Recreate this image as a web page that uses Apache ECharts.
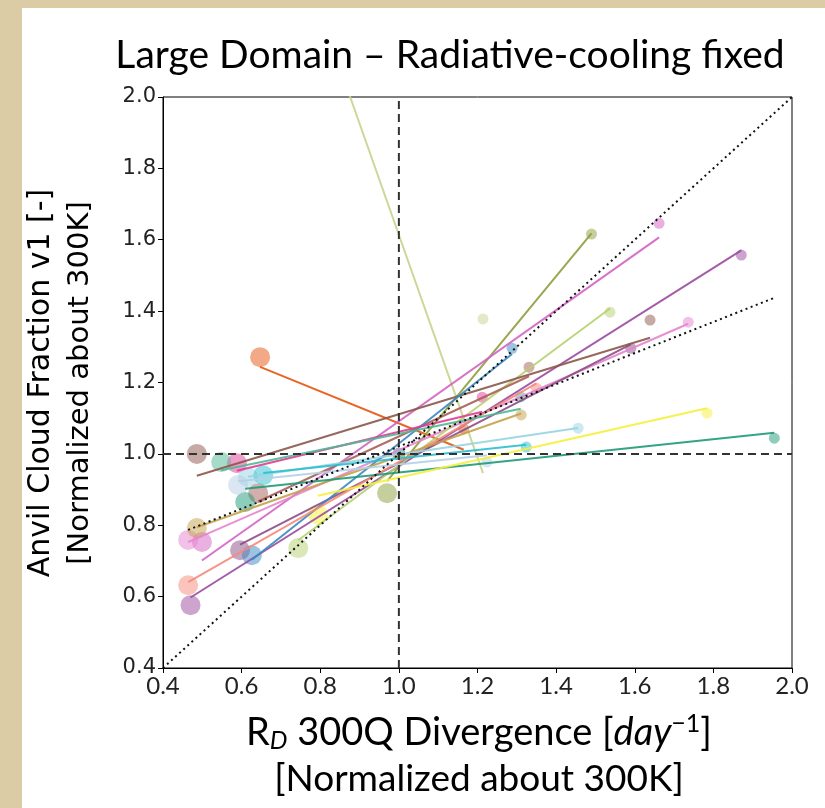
<!DOCTYPE html>
<html>
<head>
<meta charset="utf-8">
<script src="https://cdn.jsdelivr.net/npm/echarts@6/dist/echarts.min.js"></script>
<style>
  html, body { margin: 0; padding: 0; background: #fff; }
  #chart { width: 825px; height: 808px; }
</style>
</head>
<body>
<div id="chart"></div>
<script>
// one entry per model, normalized about 300K (the 300K point is 1,1 for all)
const modelColors = [
  '#e6550d', '#c7d48e', '#8c9d3c', '#d462c4', '#e584cf',
  '#9a4a9e', '#8b4d86', '#b6d06e', '#8c564b', '#a65f55',
  '#3a87c0', '#f58a7a', '#c4a24a', '#e23b95', '#4fb893',
  '#1e9a78', '#f5f03c', '#98d4e2', '#2bbfd0', '#b5cfe6'
]
// cold SST point (large marker)
const coldX = [0.647, 0.492, 0.970, 0.499, 0.464, 0.470, 0.596, 0.744, 0.486, 0.642,
               0.626, 0.464, 0.486, 0.588, 0.548, 0.609, 0.794, 0.616, 0.655, 0.591]
const coldY = [1.271, 3.380, 0.890, 0.753, 0.759, 0.576, 0.730, 0.736, 1.000, 0.890,
               0.716, 0.632, 0.792, 0.974, 0.977, 0.865, 0.830, 0.935, 0.940, 0.913]
// warm SST point (small marker)
const warmX = [1.165, 1.214, 1.490, 1.662, 1.736, 1.871, 1.590, 1.537, 1.639, 1.331,
               1.288, 1.350, 1.311, 1.212, 1.310, 1.955, 1.784, 1.456, 1.324, 1.224]
const warmY = [1.070, 1.378, 1.616, 1.646, 1.369, 1.557, 1.296, 1.397, 1.375, 1.243,
               1.296, 1.184, 1.109, 1.159, 1.160, 1.044, 1.114, 1.072, 1.019, 0.977]
const refX = 1.0
const refY = 1.0

// multi-model fit (dotted) and 1:1 line
const fitAllX = [0.464, 1.952]
const fitAllY = [0.787, 1.436]
const oneToOne = [0.4, 2.0]

const axisTicks = [0.4, 0.6, 0.8, 1.0, 1.2, 1.4, 1.6, 1.8, 2.0]

// least squares through the three SST points of a model
const fitLine = (xs, ys) => {
  const n = xs.length
  const mx = xs.reduce((a, b) => a + b, 0) / n
  const my = ys.reduce((a, b) => a + b, 0) / n
  let sxy = 0, sxx = 0
  for (let i = 0; i < n; i++) {
    sxy += (xs[i] - mx) * (ys[i] - my)
    sxx += (xs[i] - mx) * (xs[i] - mx)
  }
  const b = sxy / sxx
  const x0 = Math.min(...xs), x1 = Math.max(...xs)
  return [[x0, my + b * (x0 - mx)], [x1, my + b * (x1 - mx)]]
}

const series = []
modelColors.forEach((color, i) => {
  series.push({
    type: 'scatter',
    data: [[coldX[i], coldY[i], 20], [refX, refY, 12], [warmX[i], warmY[i], 11]],
    symbolSize: d => d[2],
    itemStyle: { color: color, opacity: 0.5 },
    silent: true,
    z: 2
  })
  series.push({
    type: 'line',
    data: fitLine([coldX[i], refX, warmX[i]], [coldY[i], refY, warmY[i]]),
    showSymbol: false,
    lineStyle: { color: color, width: 2, opacity: 0.9 },
    silent: true,
    z: 3
  })
})

// reference lines
series.push({
  type: 'line',
  data: [[refX, axisTicks[0]], [refX, axisTicks[axisTicks.length - 1]]],
  showSymbol: false,
  lineStyle: { color: '#333', width: 2, type: [8, 5] },
  z: 5
})
series.push({
  type: 'line',
  data: [[axisTicks[0], refY], [axisTicks[axisTicks.length - 1], refY]],
  showSymbol: false,
  lineStyle: { color: '#333', width: 2, type: [8, 5] },
  z: 5
})
series.push({
  type: 'line',
  data: [[oneToOne[0], oneToOne[0]], [oneToOne[1], oneToOne[1]]],
  showSymbol: false,
  lineStyle: { color: '#111', width: 2, type: [2, 3.5] },
  z: 5
})
series.push({
  type: 'line',
  data: [[fitAllX[0], fitAllY[0]], [fitAllX[1], fitAllY[1]]],
  showSymbol: false,
  lineStyle: { color: '#111', width: 2, type: [2, 3.5] },
  z: 5
})

const valueAxis = (labelStyle) => ({
  type: 'value',
  min: 0.4,
  max: 2.0,
  interval: 0.2,
  axisLine: { show: true, onZero: false, lineStyle: { color: '#000', width: 1 } },
  axisTick: { show: true, inside: false, length: 5, lineStyle: { color: '#000' } },
  splitLine: { show: false },
  axisLabel: Object.assign({ formatter: v => v.toFixed(1), color: '#222' }, labelStyle)
})

const chart = echarts.init(document.getElementById('chart'))
chart.setOption({
  backgroundColor: '#fff',
  animation: false,
  grid: {
    left: 163, top: 97, width: 629, height: 571,
    show: true, borderColor: '#000', borderWidth: 1
  },
  xAxis: valueAxis({ fontFamily: 'Lato', fontSize: 24, margin: 6 }),
  yAxis: valueAxis({ fontFamily: 'DejaVu Sans', fontSize: 21, margin: 7 }),
  series: series,
  graphic: [
    // beige slide frame
    { type: 'rect', left: 0, top: 0, shape: { width: 22, height: 808 }, style: { fill: '#dccca5' } },
    { type: 'rect', left: 0, top: 0, shape: { width: 825, height: 8 }, style: { fill: '#dccca5' } },
    {
      type: 'text', x: 450, y: 55,
      style: {
        text: 'Large Domain – Radiative-cooling fixed',
        font: '39px Lato', fill: '#000', align: 'center', verticalAlign: 'middle'
      }
    },
    {
      type: 'text', x: 41, y: 383, rotation: Math.PI / 2,
      style: {
        text: 'Anvil Cloud Fraction v1 [-]',
        font: '30px "DejaVu Sans"', fill: '#000', align: 'center', verticalAlign: 'middle'
      }
    },
    {
      type: 'text', x: 80, y: 383, rotation: Math.PI / 2,
      style: {
        text: '[Normalized about 300K]',
        font: '29px "DejaVu Sans"', fill: '#000', align: 'center', verticalAlign: 'middle'
      }
    },
    {
      type: 'text', x: 479, y: 733,
      style: {
        text: '{a|R}{s|D}{a| 300Q Divergence [}{i|day}{p|−1}{a|]}',
        align: 'center', verticalAlign: 'middle',
        rich: {
          a: { fontFamily: 'Lato', fontSize: 38, fill: '#000' },
          i: { fontFamily: 'Lato', fontStyle: 'italic', fontSize: 38, fill: '#000' },
          s: { fontFamily: 'Lato', fontStyle: 'italic', fontSize: 25, padding: [16, 0, 0, 0], fill: '#000' },
          p: { fontFamily: 'Lato', fontSize: 25, padding: [0, 0, 18, 0], fill: '#000' }
        }
      }
    },
    {
      type: 'text', x: 479, y: 779,
      style: {
        text: '[Normalized about 300K]',
        font: '37px Lato', fill: '#000', align: 'center', verticalAlign: 'middle'
      }
    }
  ]
})
</script>
</body>
</html>
